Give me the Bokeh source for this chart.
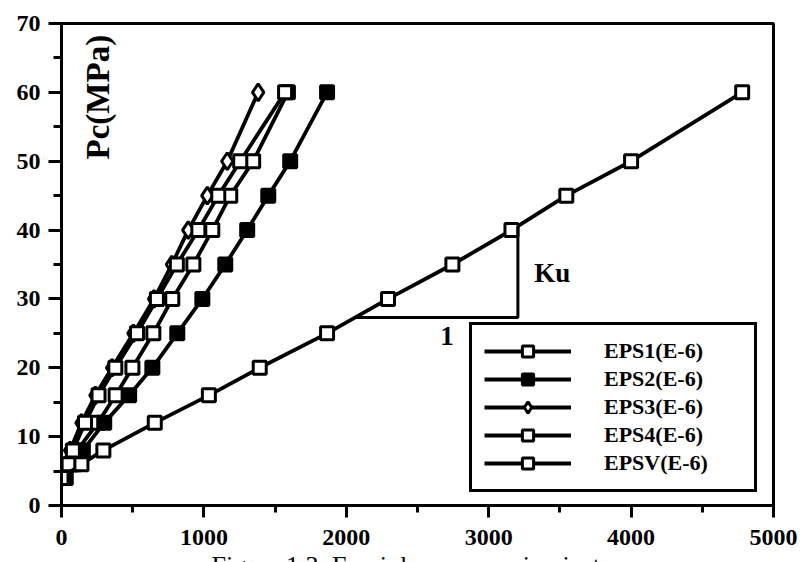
import math
from bokeh.plotting import figure
from bokeh.layouts import column
from bokeh.models import Range1d, Legend, LegendItem, Label, FixedTicker
from bokeh.embed import file_html
from bokeh.resources import INLINE

# ---- data ----
pc = [4, 6, 8, 12, 16, 20, 25, 30, 35, 40, 45, 50, 60]
eps1 = [20, 70, 110, 255, 380, 498, 645, 778, 926, 1059, 1185, 1346, 1590]
eps2 = [30, 90, 150, 300, 475, 638, 813, 989, 1150, 1304, 1452, 1606, 1865]
eps3 = [0, 40, 60, 140, 238, 355, 505, 650, 775, 890, 1024, 1164, 1381]
eps4 = [10, 50, 80, 165, 260, 378, 530, 670, 810, 961, 1101, 1255, 1570]
epsv = [0, 140, 294, 655, 1035, 1392, 1865, 2293, 2745, 3160, 3545, 4000, 4780]

series_names = ["EPS1(E-6)", "EPS2(E-6)", "EPS3(E-6)", "EPS4(E-6)", "EPSV(E-6)"]
x_ticks = [0, 1000, 2000, 3000, 4000, 5000]
y_ticks = [0, 10, 20, 30, 40, 50, 60, 70]
caption = "Figure 1.3: Essai de compression isotrope"

FONT = "Liberation Serif"

p = figure(width=807, height=552, output_backend="svg", toolbar_location=None,
           x_range=Range1d(0, 5000), y_range=Range1d(0, 70),
           min_border_left=61, min_border_right=34, min_border_top=23, min_border_bottom=47)
p.grid.visible = False
p.outline_line_color = "black"
p.outline_line_alpha = 1
p.outline_line_width = 3
p.background_fill_color = "white"
p.border_fill_color = "white"

for ax, ticks in ((p.xaxis, x_ticks), (p.yaxis, y_ticks)):
    ax.ticker = FixedTicker(ticks=ticks,
                            minor_ticks=[t + (ticks[1] - ticks[0]) / 2 for t in ticks[:-1]])
    ax.axis_line_width = 3
    ax.major_tick_line_width = 3
    ax.minor_tick_line_width = 3
    ax.major_tick_in = 0
    ax.minor_tick_in = 0
    ax.major_label_text_font = FONT
    ax.major_label_text_font_style = "bold"
    ax.major_label_text_font_size = "24px"
    ax.major_label_text_color = "black"
p.xaxis.major_tick_out = 12
p.xaxis.minor_tick_out = 7
p.xaxis.major_label_standoff = 12
p.yaxis.major_tick_out = 13
p.yaxis.minor_tick_out = 8
p.yaxis.major_label_standoff = 8

LW = 3.8
r = {}
def add(name, xs, marker, size, fill):
    ln = p.line(xs, pc, line_color="black", line_width=LW)
    sc = p.scatter(xs, pc, marker=marker, size=size, line_color="black",
                   line_width=3, fill_color=fill)
    r[name] = [ln, sc]

add("EPS1(E-6)", eps1, "square", 13, "white")
add("EPS2(E-6)", eps2, "square", 13, "black")
add("EPS3(E-6)", eps3, "diamond", 17, "white")
add("EPS4(E-6)", eps4, "square", 13, "white")
add("EPSV(E-6)", epsv, "square", 13, "white")

# slope triangle annotation
KU_X0, KU_X1, KU_Y0, KU_Y1 = 2062, 3205, 27.3, 40.5
p.line([KU_X0, KU_X1, KU_X1], [KU_Y0, KU_Y0, KU_Y1], line_color="black", line_width=3)

def lab(fig, **kw):
    kw.setdefault("text_font", FONT)
    kw.setdefault("text_font_style", "bold")
    kw.setdefault("text_color", "black")
    fig.add_layout(Label(**kw))

lab(p, x=3320, y=33.7, text="Ku", text_font_size="27px", text_align="left", text_baseline="middle")
lab(p, x=2707, y=24.6, text="1", text_font_size="27px", text_align="center", text_baseline="middle")
lab(p, x=259, y=59.3, text="Pc(MPa)", angle=math.pi / 2, text_font_size="33px",
    text_align="center", text_baseline="middle")

legend = Legend(items=[LegendItem(label=n, renderers=r[n]) for n in series_names],
                location=(408, 13), orientation="vertical",
                border_line_color="black", border_line_alpha=1, border_line_width=3,
                background_fill_color="white", background_fill_alpha=1,
                padding=12, spacing=0, margin=0,
                glyph_width=87, glyph_height=28, label_height=28,
                label_standoff=33, label_width=138,
                label_text_font=FONT, label_text_font_style="bold",
                label_text_color="black",
                label_text_font_size="22px", label_text_baseline="middle")
p.add_layout(legend, "center")

# caption strip: only the top of the caption line is visible, as in the scan
cap = figure(width=807, height=10, output_backend="svg", toolbar_location=None,
             x_range=Range1d(0, 807), y_range=Range1d(0, 10),
             min_border=0, x_axis_type=None, y_axis_type=None)
cap.grid.visible = False
cap.outline_line_color = None
cap.background_fill_color = "white"
lab(cap, x=150, y=14, x_units="screen", y_units="screen", text=caption,
    text_font_size="26px", text_font_style="normal", text_align="left", text_baseline="top")

layout = column(p, cap, spacing=0)
open("out.html", "w").write(file_html(layout, INLINE))
